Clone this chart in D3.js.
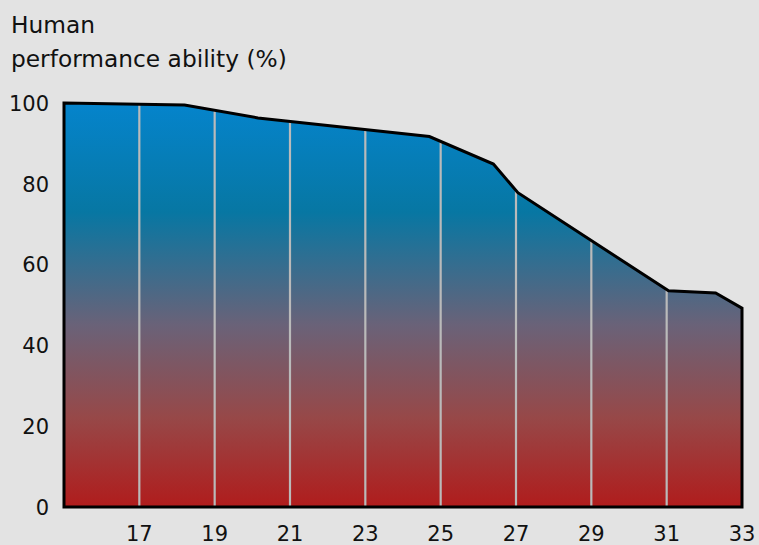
<!DOCTYPE html>
<html lang="en">
<head>
	<meta charset="utf-8">
	<title>Human performance ability</title>
	<script src="https://cdnjs.cloudflare.com/ajax/libs/d3/7.8.5/d3.min.js"></script>
	<style>
	body {
		margin: 0;
		background-color: #e3e3e3;
	}
	svg text {
		font-family: "DejaVu Sans", sans-serif;
		fill: #111;
	}
	</style>
</head>
<body>
	<svg id="chart" width="759" height="545"></svg>
	<script>
	// temperature (deg C) vs performance (%)
	var temps = [15, 18.2, 20.15, 24.7, 26.4, 27.05, 31.05, 32.3, 33];
	var performance = [100, 99.5, 96.3, 91.7, 84.9, 77.8, 53.5, 53.0, 49.2];
	var xTicks = [17, 19, 21, 23, 25, 27, 29, 31, 33];
	var yTicks = [0, 20, 40, 60, 80, 100];

	var data = temps.map(function(t, i) { return {t: t, v: performance[i]}; });

	var svg = d3.select('#chart');
	var x = d3.scaleLinear().domain([15, 33]).range([64, 742]);
	var y = d3.scaleLinear().domain([0, 100]).range([507, 103]);

	var defs = svg.append('defs');
	var grad = defs.append('linearGradient')
		.attr('id', 'fill')
		.attr('gradientUnits', 'userSpaceOnUse')
		.attr('x1', 0).attr('x2', 0)
		.attr('y1', y(100)).attr('y2', y(0));
	grad.append('stop').attr('offset', '0%').attr('stop-color', '#0584cc');
	grad.append('stop').attr('offset', '27%').attr('stop-color', '#0777a3');
	grad.append('stop').attr('offset', '55%').attr('stop-color', '#6a6278');
	grad.append('stop').attr('offset', '78%').attr('stop-color', '#974848');
	grad.append('stop').attr('offset', '100%').attr('stop-color', '#b01c1c');

	var area = d3.area()
		.x(function(d) { return x(d.t); })
		.y0(y(0))
		.y1(function(d) { return y(d.v); });

	defs.append('clipPath').attr('id', 'clip')
		.append('path').attr('d', area(data));

	svg.append('path')
		.attr('d', area(data))
		.attr('fill', 'url(#fill)');

	// vertical grid lines inside the area
	svg.append('g')
		.attr('clip-path', 'url(#clip)')
		.selectAll('line')
		.data(xTicks.filter(function(t) { return t < 33; }))
		.enter().append('line')
		.attr('x1', function(d) { return x(d); })
		.attr('x2', function(d) { return x(d); })
		.attr('y1', y(0))
		.attr('y2', y(100))
		.attr('stroke', '#bababa')
		.attr('stroke-width', 2.2);

	// outline
	svg.append('path')
		.attr('d', area(data) )
		.attr('fill', 'none')
		.attr('stroke', '#000')
		.attr('stroke-width', 3)
		.attr('stroke-linejoin', 'miter');

	// y tick labels
	svg.append('g').selectAll('text')
		.data(yTicks)
		.enter().append('text')
		.attr('x', 49)
		.attr('y', function(d) { return y(d); })
		.attr('dy', '0.37em')
		.attr('text-anchor', 'end')
		.style('font-size', '21px')
		.text(function(d) { return d; });

	// x tick labels
	svg.append('g').selectAll('text')
		.data(xTicks)
		.enter().append('text')
		.attr('x', function(d) { return x(d); })
		.attr('y', 541)
		.attr('text-anchor', 'middle')
		.style('font-size', '21px')
		.text(function(d) { return d; });

	// axis title
	svg.append('text').attr('x', 11).attr('y', 33)
		.style('font-size', '23.3px').text('Human');
	svg.append('text').attr('x', 11).attr('y', 67)
		.style('font-size', '23.3px').text('performance ability (%)');
	</script>
</body>
</html>
